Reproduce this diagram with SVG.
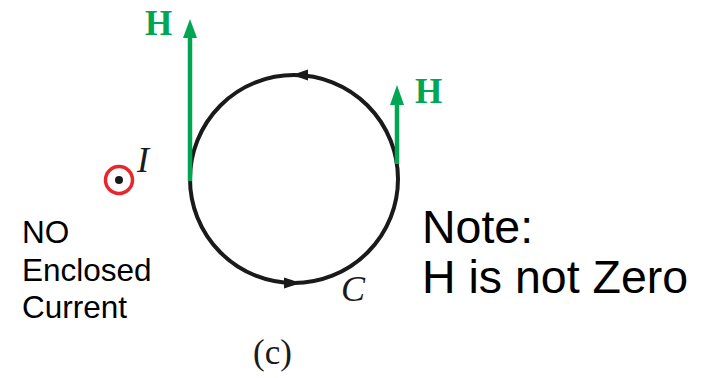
<svg xmlns="http://www.w3.org/2000/svg" width="710" height="378" viewBox="0 0 710 378">
<style>
.hl{font-family:"Liberation Serif",serif;font-weight:bold;font-size:35px;fill:#00a651}
.it{font-family:"Liberation Serif",serif;font-style:italic;font-size:36px;fill:#1a1a1a}
.sans{font-family:"Liberation Sans",Arial,sans-serif;fill:#000}
.harrow{stroke:#00a651;stroke-width:4.5;fill:none}
</style>
<rect width="710" height="378" fill="#fff"/>
<g id="loop">
<circle cx="294" cy="179" r="104" fill="none" stroke="#1a1a1a" stroke-width="4"/>
<path d="M292,75 L308,69.5 L308,80.5 Z" fill="#1a1a1a"/>
<path d="M301,283 L284,277.5 L284,288.5 Z" fill="#1a1a1a"/>
<text class="it" x="341" y="301">C</text>
</g>
<g id="h-left">
<line class="harrow" x1="190" y1="181" x2="190" y2="34"/>
<path d="M190,19 L183,38 L197,38 Z" fill="#00a651"/>
<text class="hl" x="145" y="35">H</text>
</g>
<g id="h-right">
<line class="harrow" x1="397" y1="164" x2="397" y2="100"/>
<path d="M397,85 L390,105 L404,105 Z" fill="#00a651"/>
<text class="hl" x="415" y="103">H</text>
</g>
<g id="current">
<circle cx="119" cy="180" r="13.5" fill="none" stroke="#e8262b" stroke-width="3.5"/>
<circle cx="119" cy="180" r="4" fill="#1a1a1a"/>
<text class="it" x="137" y="172">I</text>
</g>
<g id="note-left" class="sans" font-size="31.5">
<text x="22" y="243">NO</text>
<text x="22" y="281">Enclosed</text>
<text x="22" y="318">Current</text>
</g>
<g id="note-right" class="sans" font-size="46.5">
<text x="422" y="243">Note:</text>
<text x="422" y="293">H is not Zero</text>
</g>
<text x="253" y="364" font-family="'Liberation Serif',serif" font-size="35" fill="#1a1a1a">(c)</text>
</svg>
